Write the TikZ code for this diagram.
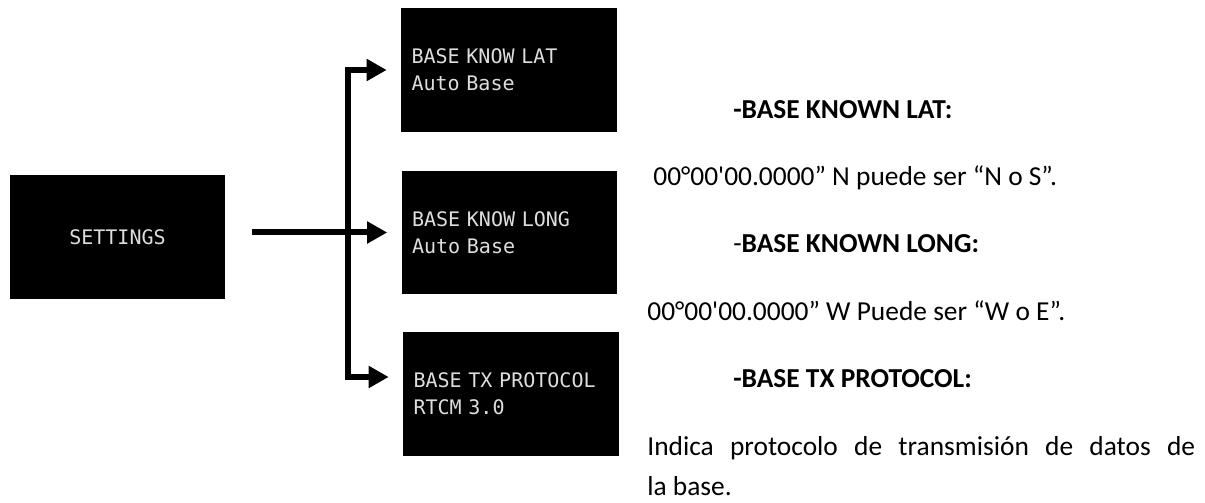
\documentclass[tikz,border=0pt]{standalone}
\usepackage{fontspec}
\setmainfont{Carlito}
\newfontfamily\screenfont{DejaVu Sans Mono}[WordSpace={1.5,0,0}]
\newcommand\screenfontsize{\screenfont\fontsize{11.4}{15.4}\selectfont\hyphenpenalty=10000\relax}
\usetikzlibrary{arrows.meta}

\definecolor{screentext}{RGB}{222,222,222}

\tikzset{
  screen/.style={fill=black, text=screentext, minimum width=4.32cm, minimum height=2.48cm,
    text width=3.9cm, inner xsep=0.21cm, align=left, font=\screenfontsize},
  link/.style={line width=0.12cm, line join=miter},
  branch/.style={link, -{Triangle[length=0.4cm,width=0.42cm]}, shorten >=0.28cm},
  note/.style={anchor=base west, inner sep=0pt, font=\fontsize{15.6}{18}\selectfont}
}

\begin{document}
\begin{tikzpicture}[x=0.02cm,y=-0.02cm]
\useasboundingbox (0,0) rectangle (1205,503);

% --- Menu screens ---
\node (settings) [screen, align=center] at (117.5,237) {SETTINGS};
\node (base_lat) [screen] at (509,70) {BASE KNOW LAT\\Auto Base};
\node (base_long) [screen] at (509.5,232.5) {BASE KNOW LONG\\Auto Base};
\node (base_tx) [screen] at (511,394) {BASE TX PROTOCOL\\RTCM 3.0};

% --- Connectors ---
\coordinate (split) at (348,232.5);
\draw[link, shorten <=0.52cm] (settings.east |- split) -- (split);
\draw[branch] (split) |- (base_lat.west);
\draw[branch] (split) -- (base_long.west);
\draw[branch] (split) |- ([yshift=0.34cm]base_tx.west);

% --- Description ---
\node (lat_title) [note] at (733,119) {\textbf{-BASE KNOWN LAT:}};
\node (lat_text) [note] at (653,186) {00°00\textquotesingle00.0000” N puede ser “N o S”.};
\node (long_title) [note] at (733,253) {-\textbf{BASE KNOWN LONG:}};
\node (long_text) [note] at (647,321) {00°00\textquotesingle00.0000” W Puede ser “W o E”.};
\node (tx_title) [note] at (733,388) {\textbf{-BASE TX PROTOCOL:}};
\node (tx_text) [note] at (647,456) {\makebox[10.96cm][s]{Indica protocolo de transmisión de datos de}};
\node (tx_text2) [note] at (647,496) {la base.};

\end{tikzpicture}
\end{document}
